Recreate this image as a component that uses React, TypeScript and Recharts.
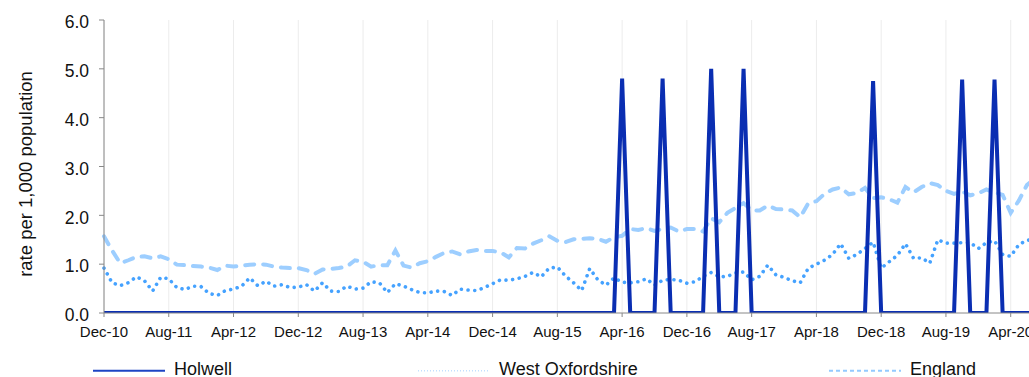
import { LineChart, Line, XAxis, YAxis, CartesianGrid } from "recharts";

// monthly periods, Dec-10 .. Jul-20
const months = [
  "Dec-10",
  "Jan-11", "Feb-11", "Mar-11", "Apr-11", "May-11", "Jun-11", "Jul-11", "Aug-11", "Sep-11", "Oct-11", "Nov-11", "Dec-11",
  "Jan-12", "Feb-12", "Mar-12", "Apr-12", "May-12", "Jun-12", "Jul-12", "Aug-12", "Sep-12", "Oct-12", "Nov-12", "Dec-12",
  "Jan-13", "Feb-13", "Mar-13", "Apr-13", "May-13", "Jun-13", "Jul-13", "Aug-13", "Sep-13", "Oct-13", "Nov-13", "Dec-13",
  "Jan-14", "Feb-14", "Mar-14", "Apr-14", "May-14", "Jun-14", "Jul-14", "Aug-14", "Sep-14", "Oct-14", "Nov-14", "Dec-14",
  "Jan-15", "Feb-15", "Mar-15", "Apr-15", "May-15", "Jun-15", "Jul-15", "Aug-15", "Sep-15", "Oct-15", "Nov-15", "Dec-15",
  "Jan-16", "Feb-16", "Mar-16", "Apr-16", "May-16", "Jun-16", "Jul-16", "Aug-16", "Sep-16", "Oct-16", "Nov-16", "Dec-16",
  "Jan-17", "Feb-17", "Mar-17", "Apr-17", "May-17", "Jun-17", "Jul-17", "Aug-17", "Sep-17", "Oct-17", "Nov-17", "Dec-17",
  "Jan-18", "Feb-18", "Mar-18", "Apr-18", "May-18", "Jun-18", "Jul-18", "Aug-18", "Sep-18", "Oct-18", "Nov-18", "Dec-18",
  "Jan-19", "Feb-19", "Mar-19", "Apr-19", "May-19", "Jun-19", "Jul-19", "Aug-19", "Sep-19", "Oct-19", "Nov-19", "Dec-19",
  "Jan-20", "Feb-20", "Mar-20", "Apr-20", "May-20", "Jun-20", "Jul-20",
];

const holwell = [
  0,
  0, 0, 0, 0, 0, 0, 0, 0, 0, 0, 0, 0,
  0, 0, 0, 0, 0, 0, 0, 0, 0, 0, 0, 0,
  0, 0, 0, 0, 0, 0, 0, 0, 0, 0, 0, 0,
  0, 0, 0, 0, 0, 0, 0, 0, 0, 0, 0, 0,
  0, 0, 0, 0, 0, 0, 0, 0, 0, 0, 0, 0,
  0, 0, 0, 4.8, 0, 0, 0, 0, 4.8, 0, 0, 0,
  0, 0, 5.0, 0, 0, 0, 5.0, 0, 0, 0, 0, 0,
  0, 0, 0, 0, 0, 0, 0, 0, 0, 0, 4.75, 0,
  0, 0, 0, 0, 0, 0, 0, 0, 0, 4.78, 0, 0,
  0, 4.78, 0, 0, 0, 0, 0,
];

const westOxfordshire = [
  0.92,
  0.62, 0.56, 0.62, 0.74, 0.66, 0.45, 0.73, 0.70, 0.52, 0.48, 0.55, 0.54,
  0.40, 0.36, 0.46, 0.49, 0.55, 0.72, 0.56, 0.65, 0.55, 0.58, 0.52, 0.53,
  0.58, 0.45, 0.62, 0.45, 0.44, 0.55, 0.49, 0.51, 0.64, 0.62, 0.42, 0.60,
  0.55, 0.48, 0.42, 0.41, 0.45, 0.44, 0.36, 0.49, 0.47, 0.46, 0.52, 0.60,
  0.68, 0.67, 0.70, 0.75, 0.83, 0.74, 0.92, 0.94, 0.76, 0.62, 0.46, 0.91,
  0.68, 0.57, 0.72, 0.63, 0.62, 0.64, 0.70, 0.57, 0.67, 0.69, 0.67, 0.61,
  0.64, 0.75, 0.83, 0.74, 0.75, 0.82, 0.84, 0.68, 0.75, 0.98, 0.78, 0.73,
  0.66, 0.62, 0.92, 1.0, 1.08, 1.2, 1.42, 1.12, 1.2, 1.32, 1.45, 0.92,
  1.05, 1.18, 1.42, 1.12, 1.13, 1.02, 1.5, 1.43, 1.43, 1.44, 1.44, 1.32,
  1.44, 1.48, 1.2, 1.16, 1.4, 1.49, 1.5,
];

const england = [
  1.57,
  1.28, 1.02, 1.08, 1.15, 1.16, 1.12, 1.16, 1.10, 0.99, 0.98, 0.96, 0.95,
  0.93, 0.88, 0.97, 0.95, 0.97, 0.99, 1.0, 0.99, 0.95, 0.93, 0.92, 0.92,
  0.88, 0.80, 0.89, 0.90, 0.92, 0.95, 1.08, 1.05, 0.95, 0.98, 0.98, 1.28,
  0.97, 0.93, 1.02, 1.06, 1.15, 1.23, 1.26, 1.2, 1.26, 1.29, 1.27, 1.27,
  1.24, 1.14, 1.33, 1.32, 1.42, 1.49, 1.57, 1.48, 1.45, 1.51, 1.52, 1.53,
  1.52, 1.46, 1.55, 1.58, 1.72, 1.70, 1.74, 1.68, 1.72, 1.75, 1.67, 1.72,
  1.72, 1.67, 1.94, 1.86, 2.05, 2.15, 2.25, 2.1, 2.1, 2.2, 2.13, 2.12,
  2.1, 1.96, 2.25, 2.29, 2.44, 2.53, 2.57, 2.43, 2.46, 2.56, 2.35, 2.37,
  2.33, 2.26, 2.58, 2.47, 2.58, 2.66, 2.62, 2.5, 2.44, 2.49, 2.41, 2.45,
  2.53, 2.47, 2.42, 2.05, 2.3, 2.62, 2.75,
];

const yTicks = [0, 1, 2, 3, 4, 5, 6];

const FONT = '"Liberation Sans", Arial, Helvetica, sans-serif';

const data = months.map((m, i) => ({
  month: m,
  holwell: holwell[i],
  westOx: westOxfordshire[i],
  england: england[i],
}));

const legendItems = [
  { name: "Holwell", x: 93, color: "#1d44c4", dash: undefined, width: 2 },
  { name: "West Oxfordshire", x: 418, color: "#c2e0ff", dash: "1 2", width: 1.5 },
  { name: "England", x: 829, color: "#94caff", dash: "4 3", width: 2 },
];

function ChartLegend() {
  return (
    <svg
      width={1029}
      height={30}
      style={{ position: "absolute", left: 0, top: 355, fontFamily: FONT }}
    >
      {legendItems.map((it) => (
        <g key={it.name}>
          <line
            x1={it.x}
            x2={it.x + 72}
            y1={15.7}
            y2={15.7}
            stroke={it.color}
            strokeWidth={it.width}
            strokeDasharray={it.dash}
          />
          <text x={it.x + 81} y={20} fontSize={18} fill="#111">
            {it.name}
          </text>
        </g>
      ))}
    </svg>
  );
}

export default function App() {
  return (
    <div
      style={{
        position: "absolute",
        left: 0,
        top: 0,
        width: 1029,
        height: 377,
        overflow: "hidden",
        background: "#fff",
        fontFamily: FONT,
      }}
    >
      <LineChart
        width={1045}
        height={377}
        data={data}
        margin={{ top: 20, right: 10, left: 0, bottom: 34 }}
      >
        <CartesianGrid vertical horizontal={false} stroke="#ececec" />
        <XAxis
          dataKey="month"
          interval={7}
          tickSize={4}
          tickMargin={9}
          height={30}
          stroke="#888"
          tick={{ fill: "#111", fontSize: 15, fontFamily: FONT }}
        />
        <YAxis
          domain={[0, 6]}
          ticks={yTicks}
          allowDataOverflow
          width={104}
          tickSize={5}
          tickMargin={10}
          stroke="#888"
          tickFormatter={(v: number) => v.toFixed(1)}
          tick={{ fill: "#111", fontSize: 17.5, fontFamily: FONT, dy: 2 }}
          label={{
            content: () => (
              <text
                x={25}
                y={174}
                transform="rotate(-90, 25, 174)"
                textAnchor="middle"
                dominantBaseline="central"
                fontSize={18.5}
                fontFamily={FONT}
                fill="#111"
              >
                rate per 1,000 population
              </text>
            ),
          }}
        />
        <Line
          dataKey="england"
          stroke="#9dceff"
          strokeWidth={4}
          strokeDasharray="9 9"
          strokeLinecap="round"
          dot={false}
          isAnimationActive={false}
        />
        <Line
          dataKey="westOx"
          stroke="#45a2ff"
          strokeWidth={3.6}
          strokeDasharray="0.01 6.7"
          strokeLinecap="round"
          dot={false}
          isAnimationActive={false}
        />
        <Line
          dataKey="holwell"
          stroke="#0a2eb2"
          strokeWidth={4}
          strokeLinejoin="miter"
          dot={false}
          isAnimationActive={false}
        />
      </LineChart>
      <ChartLegend />
    </div>
  );
}
